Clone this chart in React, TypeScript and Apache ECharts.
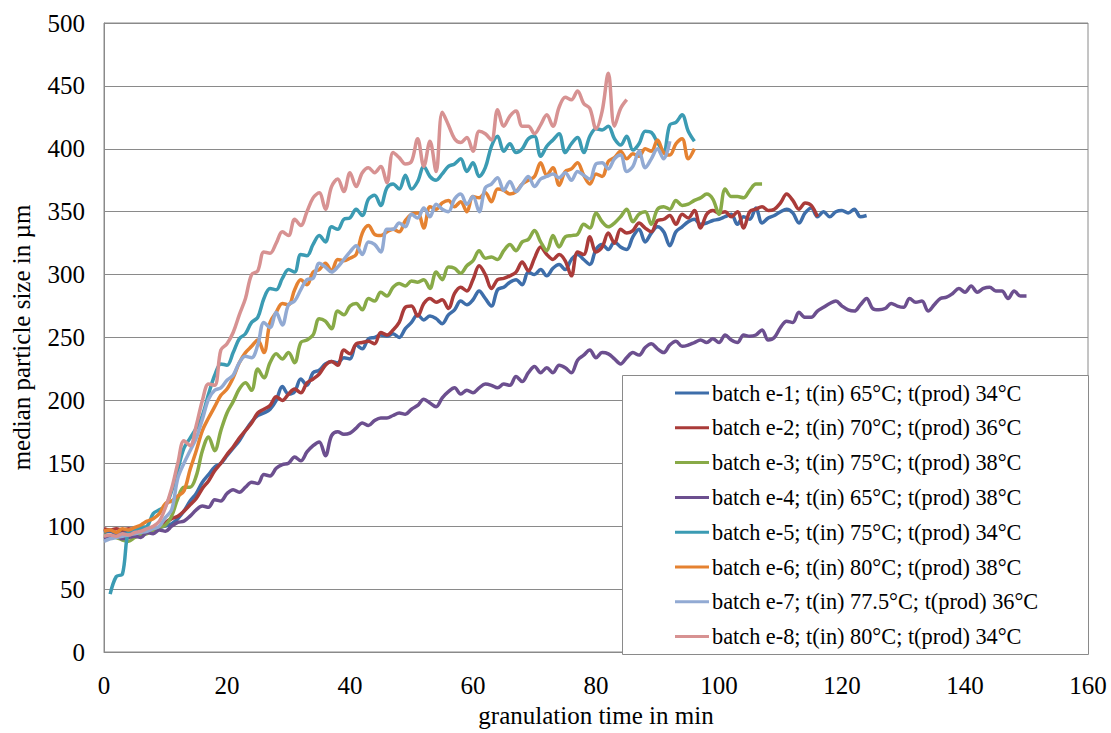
import React, { useEffect, useRef } from "react";
import * as echarts from "echarts";

// Median particle size (µm) sampled every minute of granulation time
const e1Start = 0;
const e1 = [95, 96, 94, 96, 95, 97, 96, 98, 97, 99, 100, 102, 106, 112, 120, 126, 135, 141, 147, 150, 156, 162, 168, 176, 183, 188, 190, 193, 200, 211, 205, 207, 217, 212, 222, 224, 229, 231, 230, 234, 233, 244, 241, 249, 250, 252, 251, 253, 250, 257, 262, 268, 264, 267, 265, 261, 268, 272, 279, 276, 280, 287, 281, 275, 288, 290, 294, 296, 292, 302, 300, 304, 299, 305, 308, 304, 312, 316, 312, 308, 320, 324, 320, 326, 322, 320, 330, 336, 326, 333, 338, 334, 323, 334, 338, 342, 344, 340, 341, 343, 344, 346, 348, 340, 346, 344, 353, 341, 345, 347, 350, 352, 349, 341, 349, 353, 346, 350, 346, 350, 351, 349, 352, 346, 347];
const e2Start = 0;
const e2 = [98, 97, 98, 97, 98, 97, 98, 97, 98, 99, 103, 106, 108, 112, 117, 122, 130, 136, 144, 150, 157, 163, 170, 176, 182, 190, 193, 196, 203, 200, 205, 209, 206, 214, 217, 221, 228, 231, 228, 240, 237, 245, 246, 247, 245, 254, 252, 256, 262, 274, 275, 267, 277, 281, 278, 280, 273, 285, 290, 287, 296, 307, 300, 289, 296, 297, 299, 302, 310, 303, 313, 322, 316, 312, 316, 311, 299, 318, 316, 330, 318, 322, 333, 325, 336, 333, 335, 341, 337, 334, 343, 344, 347, 340, 348, 345, 351, 337, 348, 351, 349, 350, 346, 350, 337, 350, 352, 354, 351, 352, 357, 364, 359, 352, 357, 355, 346];
const e3Start = 0;
const e3 = [93, 92, 91, 89, 88, 91, 93, 94, 97, 99, 101, 108, 122, 131, 131, 140, 160, 171, 160, 176, 190, 199, 209, 214, 208, 225, 218, 230, 237, 233, 238, 230, 246, 248, 252, 265, 263, 257, 271, 268, 275, 277, 272, 281, 279, 286, 283, 290, 293, 291, 295, 294, 296, 289, 302, 296, 306, 305, 301, 307, 311, 319, 313, 314, 312, 319, 324, 319, 326, 328, 335, 326, 319, 331, 322, 330, 331, 332, 340, 337, 349, 342, 338, 341, 346, 352, 342, 348, 350, 340, 352, 354, 352, 359, 355, 356, 359, 361, 364, 360, 348, 368, 362, 362, 361, 367, 372, 372];
const e4Start = 0;
const e4 = [90, 91, 92, 90, 91, 92, 91, 95, 94, 97, 96, 100, 103, 104, 108, 113, 116, 115, 121, 120, 126, 129, 127, 131, 135, 134, 141, 140, 146, 149, 150, 155, 152, 159, 164, 167, 156, 172, 175, 173, 174, 178, 182, 180, 184, 186, 186, 188, 190, 189, 193, 196, 201, 198, 195, 202, 207, 210, 205, 208, 206, 210, 213, 212, 210, 213, 212, 219, 215, 222, 227, 222, 226, 222, 228, 226, 222, 232, 236, 240, 234, 238, 237, 233, 229, 234, 238, 236, 242, 245, 241, 238, 244, 247, 243, 244, 246, 248, 246, 249, 246, 252, 248, 246, 252, 251, 252, 256, 248, 250, 258, 263, 262, 270, 266, 266, 271, 274, 277, 279, 275, 272, 271, 276, 281, 273, 272, 273, 277, 275, 274, 281, 278, 279, 271, 276, 281, 282, 285, 289, 286, 291, 286, 289, 290, 287, 287, 281, 287, 283, 283];
const e5Start = 1;
const e5 = [46, 60, 62, 96, 97, 99, 100, 110, 113, 116, 128, 145, 162, 170, 178, 188, 205, 220, 229, 228, 238, 249, 253, 262, 266, 281, 289, 288, 297, 304, 302, 316, 315, 324, 331, 326, 338, 336, 344, 345, 352, 347, 360, 363, 355, 369, 372, 368, 379, 368, 374, 386, 378, 375, 380, 386, 388, 392, 382, 389, 378, 385, 402, 410, 398, 404, 397, 400, 408, 410, 394, 402, 407, 412, 397, 404, 409, 397, 410, 416, 415, 418, 408, 403, 410, 399, 404, 414, 413, 405, 398, 419, 421, 427, 414, 406];
const e6Start = 0;
const e6 = [96, 97, 95, 98, 97, 99, 101, 104, 106, 110, 118, 120, 124, 128, 145, 160, 176, 186, 195, 204, 209, 218, 230, 238, 243, 248, 238, 262, 270, 277, 276, 288, 296, 292, 302, 304, 309, 303, 312, 311, 313, 316, 333, 339, 332, 331, 334, 336, 334, 343, 348, 349, 337, 354, 352, 357, 359, 354, 358, 350, 362, 361, 365, 358, 368, 367, 364, 366, 372, 375, 378, 389, 379, 385, 371, 382, 384, 389, 379, 372, 380, 378, 390, 393, 398, 392, 396, 394, 400, 398, 407, 397, 395, 404, 408, 392, 400];
const e7Start = 0;
const e7 = [88, 90, 91, 92, 93, 94, 95, 96, 98, 100, 107, 113, 138, 150, 160, 170, 185, 201, 208, 210, 216, 220, 230, 235, 234, 244, 262, 258, 270, 260, 276, 279, 288, 296, 297, 309, 306, 302, 306, 312, 318, 323, 316, 326, 324, 318, 336, 336, 341, 338, 348, 345, 353, 346, 356, 352, 350, 360, 364, 356, 362, 350, 369, 372, 377, 367, 374, 366, 372, 378, 370, 376, 378, 380, 377, 381, 375, 382, 379, 376, 388, 389, 384, 392, 395, 382, 386, 398, 385, 392, 400, 392, 406];
const e8Start = 0;
const e8 = [92, 93, 92, 94, 93, 95, 96, 98, 100, 104, 115, 130, 150, 168, 164, 180, 200, 213, 212, 240, 245, 254, 268, 281, 300, 303, 318, 317, 325, 334, 331, 344, 339, 350, 361, 365, 352, 370, 376, 366, 381, 370, 381, 385, 381, 386, 373, 397, 393, 388, 390, 408, 386, 406, 382, 429, 419, 408, 405, 409, 398, 414, 412, 407, 431, 418, 426, 430, 418, 418, 412, 419, 427, 418, 433, 441, 439, 446, 436, 432, 416, 430, 460, 418, 432, 439];

const seriesNames = [
  "batch e-1; t(in) 65°C; t(prod) 34°C",
  "batch e-2; t(in) 70°C; t(prod) 36°C",
  "batch e-3; t(in) 75°C; t(prod) 38°C",
  "batch e-4; t(in) 65°C; t(prod) 38°C",
  "batch e-5; t(in) 75°C; t(prod) 34°C",
  "batch e-6; t(in) 80°C; t(prod) 38°C",
  "batch e-7; t(in) 77.5°C; t(prod) 36°C",
  "batch e-8; t(in) 80°C; t(prod) 34°C",
];
const seriesValues = [e1, e2, e3, e4, e5, e6, e7, e8];
const seriesStarts = [e1Start, e2Start, e3Start, e4Start, e5Start, e6Start, e7Start, e8Start];
const seriesColors = ["#3E6EAA", "#AA3B39", "#88AA47", "#6C4F8F", "#3B9BB3", "#E58231", "#92AAD3", "#D79292"];

const xTicks = { min: 0, max: 160, interval: 20 };
const yTicks = { min: 0, max: 500, interval: 50 };

const FONT = "'Liberation Serif', 'Times New Roman', serif";

export default function App() {
  const ref = useRef<HTMLDivElement>(null);
  useEffect(() => {
    if (!ref.current) return;
    const chart = echarts.init(ref.current, undefined, { renderer: "svg" });
    const series = seriesValues.map((vals, k) => ({
      name: seriesNames[k],
      type: "line",
      data: vals.map((v, i) => [seriesStarts[k] + i, v]),
      showSymbol: false,
      symbol: "none",
      smooth: 0.35,
      color: seriesColors[k],
      lineStyle: { width: 3.5, color: seriesColors[k] },
      z: 2,
    }));
    chart.setOption({
      animation: false,
      backgroundColor: "#ffffff",
      textStyle: { fontFamily: FONT },
      grid: { left: 104, top: 23, right: 23, bottom: 79, show: true, borderColor: "#8a8a8a", borderWidth: 1, backgroundColor: "transparent" },
      xAxis: {
        type: "value",
        min: xTicks.min,
        max: xTicks.max,
        interval: xTicks.interval,
        axisLine: { show: true, lineStyle: { color: "#8a8a8a", width: 1 } },
        axisTick: { show: false },
        splitLine: { show: false },
        axisLabel: { fontFamily: FONT, fontSize: 25, color: "#000", margin: 21 },
        name: "granulation time in min",
        nameLocation: "middle",
        nameGap: 51,
        nameTextStyle: { fontFamily: FONT, fontSize: 25, color: "#000" },
      },
      yAxis: {
        type: "value",
        min: yTicks.min,
        max: yTicks.max,
        interval: yTicks.interval,
        axisLine: { show: true, lineStyle: { color: "#8a8a8a", width: 1 } },
        axisTick: { show: false },
        splitLine: { show: true, lineStyle: { color: "#8a8a8a", width: 1 } },
        axisLabel: { fontFamily: FONT, fontSize: 25, color: "#000", margin: 19 },
        name: "median particle size in µm",
        nameLocation: "middle",
        nameGap: 70,
        nameTextStyle: { fontFamily: FONT, fontSize: 25, color: "#000" },
      },
      legend: {
        show: true,
        orient: "vertical",
        left: 675,
        top: 382,
        padding: 0,
        itemWidth: 34,
        itemHeight: 22,
        itemGap: 12.8,
        icon: "path://M0,0H34V3H0Z",
        textStyle: { fontFamily: FONT, fontSize: 22.3, color: "#000", lineHeight: 22, padding: [0, 0, 0, -2] },
        z: 20,
        selectedMode: false,
      },
      graphic: [
        {
          type: "rect",
          left: 622,
          top: 375,
          z: 10,
          shape: { width: 466, height: 279 },
          style: { fill: "#ffffff", stroke: "#8a8a8a", lineWidth: 1 },
        },
      ],
      series,
    });
    return () => chart.dispose();
  }, []);
  return <div ref={ref} style={{ position: "fixed", left: 0, top: 0, width: 1111, height: 733 }} />;
}
